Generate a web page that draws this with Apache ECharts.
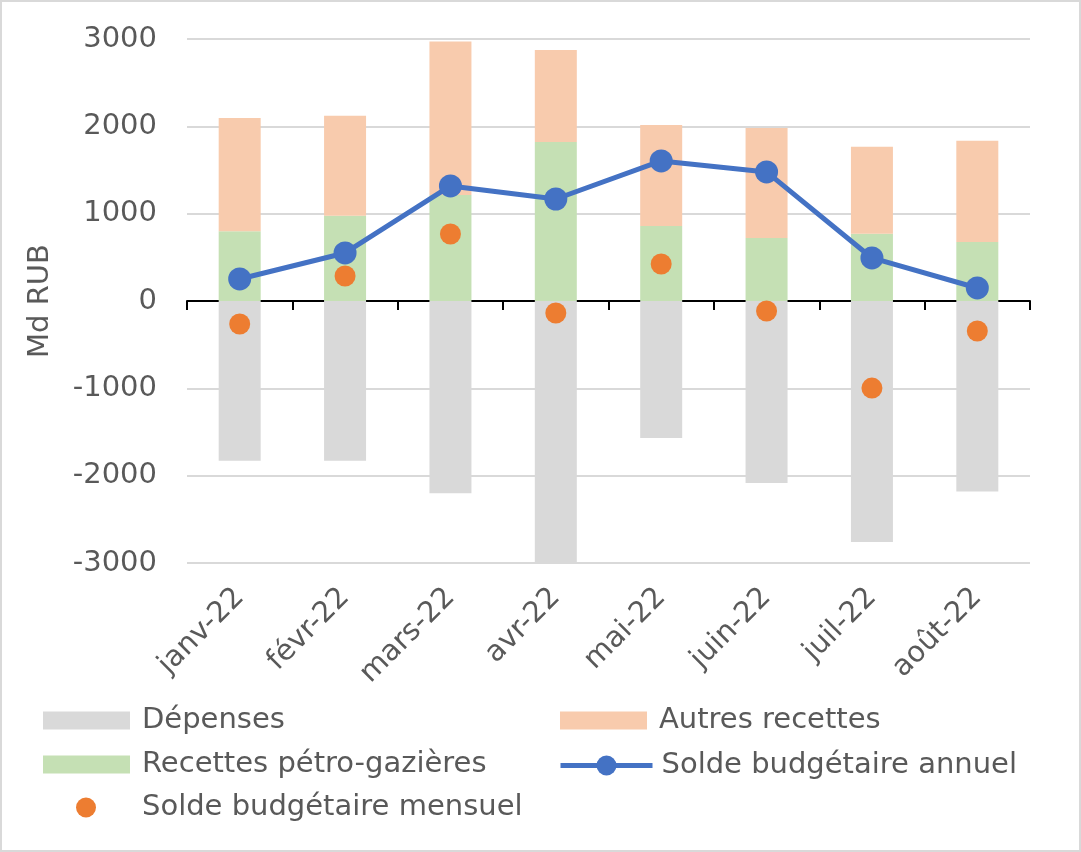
<!DOCTYPE html>
<html>
<head>
<meta charset="utf-8">
<script src="https://cdn.jsdelivr.net/npm/echarts@6/dist/echarts.min.js"></script>
<style>
html,body{margin:0;padding:0;background:#fff;}
#chart{width:1081px;height:852px;}
</style>
</head>
<body>
<div id="chart"></div>
<script>
const categories = ['janv-22','févr-22','mars-22','avr-22','mai-22','juin-22','juil-22','août-22'];
const depenses = [-1830, -1830, -2200, -3000, -1570, -2085, -2760, -2180];
const recettesPetro = [800, 975, 1215, 1820, 860, 720, 770, 675];
const autresRecettes = [1295, 1145, 1755, 1055, 1155, 1260, 995, 1160];
const soldeAnnuel = [252, 550, 1317, 1168, 1604, 1478, 493, 149];
const soldeMensuel = [-263, 286, 767, -137, 424, -115, -997, -344];
const yTicks = { min: -3000, max: 3000, interval: 1000 };

const FONT = 'DejaVu Sans';
const TXT = '#595959';
const FS = 29;

const chart = echarts.init(document.getElementById('chart'), null, {renderer: 'canvas'});

function legendAt(name, left, top, extra) {
  return Object.assign({
    data: [name], left: left, top: top, padding: 0,
    itemWidth: 87, itemHeight: 18, itemGap: 0, icon: 'rect',
    textStyle: { fontFamily: FONT, fontSize: FS, color: TXT, padding: [0, 0, 0, 7] }
  }, extra || {});
}

chart.setOption({
  animation: false,
  textStyle: { fontFamily: FONT },
  graphic: [{
    type: 'rect', shape: { x: 1, y: 1, width: 1079, height: 850 },
    style: { fill: 'none', stroke: '#d9d9d9', lineWidth: 2 }, silent: true, z: -1
  }],
  grid: { left: 187, right: 51, top: 39, bottom: 289, containLabel: false },
  legend: [
    legendAt('Dépenses', 43, 706),
    legendAt('Autres recettes', 560, 706),
    legendAt('Recettes pétro-gazières', 43, 750),
    legendAt('Solde budgétaire annuel', 558, 751, {
      icon: null, itemWidth: 92, itemHeight: 25,
      lineStyle: { width: 5 },
      textStyle: { fontFamily: FONT, fontSize: FS, color: TXT, padding: [0, 0, 0, 4] }
    }),
    legendAt('Solde budgétaire mensuel', 76, 793, {
      icon: 'circle', itemWidth: 20, itemHeight: 20,
      textStyle: { fontFamily: FONT, fontSize: FS, color: TXT, padding: [0, 0, 0, 41] }
    })
  ],
  xAxis: [{
    type: 'category', data: categories, position: 'bottom',
    axisLine: { show: false, onZero: false }, axisTick: { show: false },
    axisLabel: { rotate: 45, margin: 30, fontFamily: FONT, fontSize: FS, color: TXT, interval: 0 },
    splitLine: { show: false }
  }, {
    type: 'category', data: categories, position: 'bottom',
    axisLine: { show: true, onZero: true, onZeroAxisIndex: 0, lineStyle: { color: '#000', width: 2 } },
    axisTick: { show: true, length: 9, alignWithLabel: false, lineStyle: { color: '#000', width: 2 } },
    axisLabel: { show: false }, splitLine: { show: false }
  }],
  yAxis: [{
    type: 'value', min: yTicks.min, max: yTicks.max, interval: yTicks.interval,
    name: 'Md RUB', nameLocation: 'middle', nameGap: 132, nameRotate: 90,
    nameTextStyle: { fontFamily: FONT, fontSize: FS, color: TXT },
    axisLine: { show: false }, axisTick: { show: false },
    axisLabel: { margin: 30, fontFamily: FONT, fontSize: FS, color: TXT, formatter: function (v) { return String(v); } },
    splitLine: { lineStyle: { color: '#d9d9d9', width: 2 } }
  }],
  series: [{
    name: 'Dépenses', type: 'bar', stack: 'total', xAxisIndex: 0,
    data: depenses, barWidth: 42, itemStyle: { color: '#d9d9d9' }
  }, {
    name: 'Recettes pétro-gazières', type: 'bar', stack: 'total', xAxisIndex: 0,
    data: recettesPetro, barWidth: 42, itemStyle: { color: '#c5e0b4' }
  }, {
    name: 'Autres recettes', type: 'bar', stack: 'total', xAxisIndex: 0,
    data: autresRecettes, barWidth: 42, itemStyle: { color: '#f8cbad' }
  }, {
    name: 'Solde budgétaire mensuel', type: 'scatter', xAxisIndex: 0,
    data: soldeMensuel, symbol: 'circle', symbolSize: 21,
    itemStyle: { color: '#ed7d31', opacity: 1 }, z: 4
  }, {
    name: 'Solde budgétaire annuel', type: 'line', xAxisIndex: 0,
    data: soldeAnnuel, symbol: 'circle', symbolSize: 23,
    lineStyle: { color: '#4472c4', width: 5 },
    itemStyle: { color: '#4472c4' }, z: 5
  }]
});
</script>
</body>
</html>
